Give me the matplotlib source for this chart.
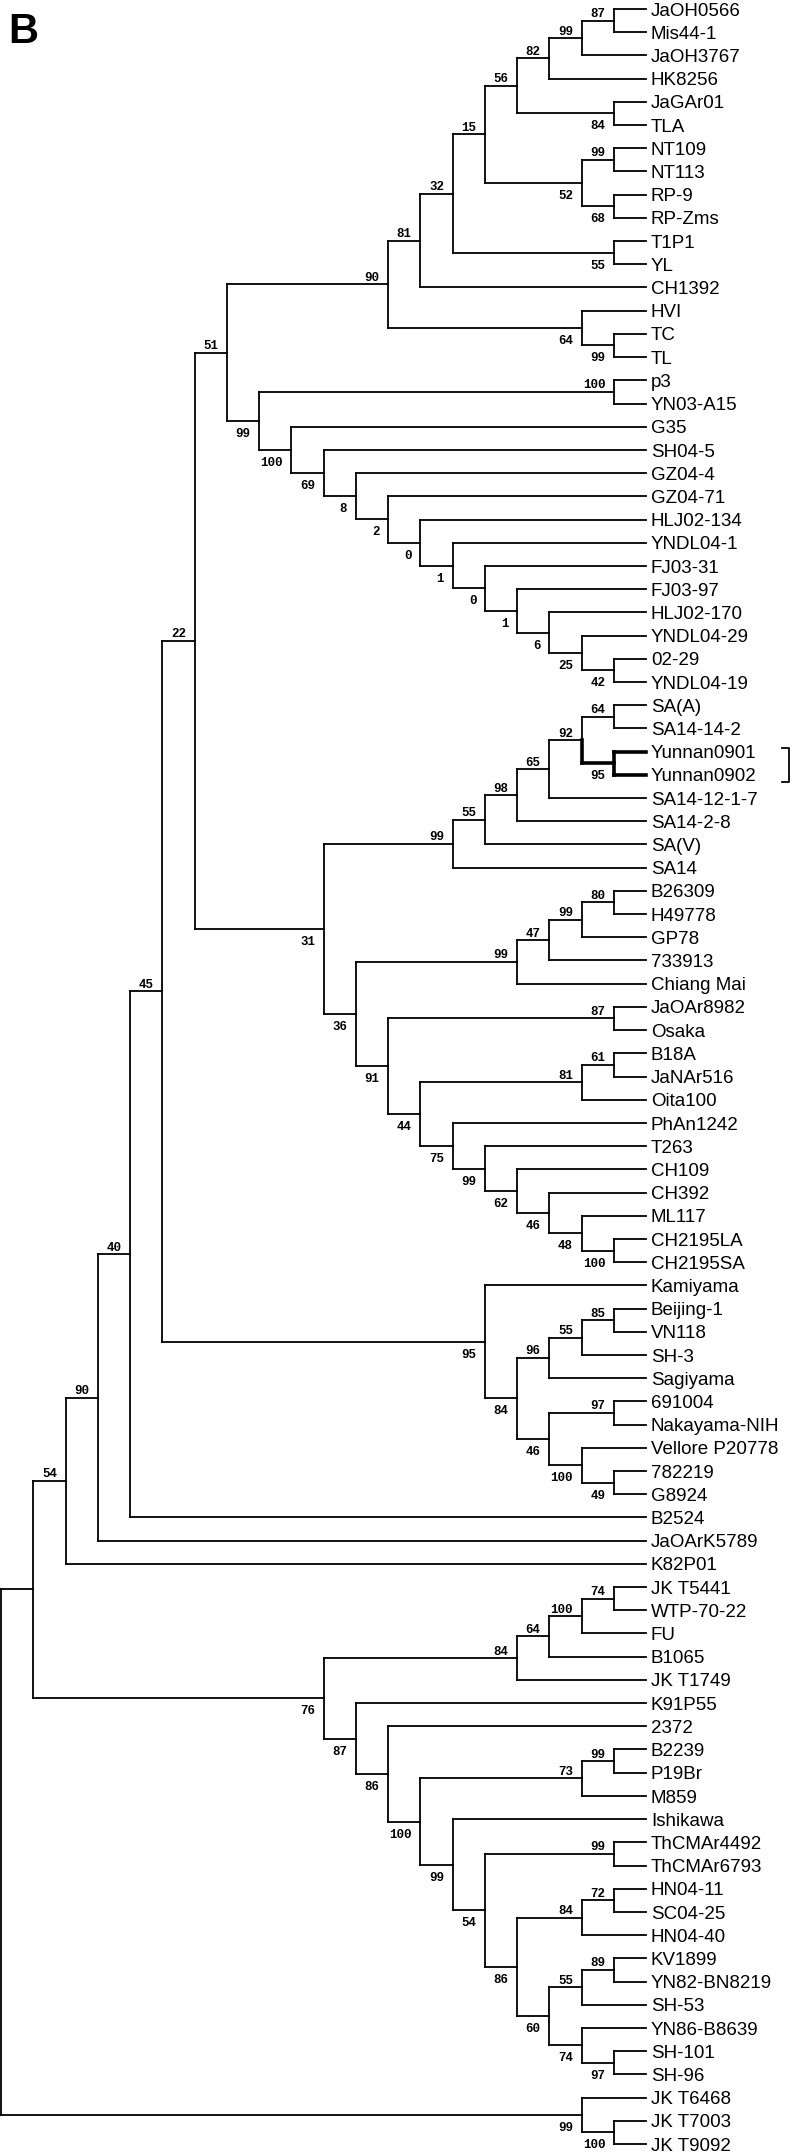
import matplotlib
matplotlib.use('Agg')
import matplotlib.pyplot as plt
from matplotlib.collections import LineCollection

# ---------------- data: tree topology with bootstrap values ----------------
# node = (bootstrap, child1, child2, ...); leaf = str
clade_top = (
    '90',
    ('81',
     ('32',
      ('15',
       ('56',
        ('82', ('99', ('87', 'JaOH0566', 'Mis44-1'), 'JaOH3767'), 'HK8256'),
        ('84', 'JaGAr01', 'TLA')),
       ('52', ('99', 'NT109', 'NT113'), ('68', 'RP-9', 'RP-Zms'))),
      ('55', 'T1P1', 'YL')),
     'CH1392'),
    ('64', 'HVI', ('99', 'TC', 'TL')))

c_42 = ('42', '02-29', 'YNDL04-19')
c_25 = ('25', 'YNDL04-29', c_42)
c_6 = ('6', 'HLJ02-170', c_25)
c_1b = ('1', 'FJ03-97', c_6)
c_0b = ('0', 'FJ03-31', c_1b)
c_1a = ('1', 'YNDL04-1', c_0b)
c_0a = ('0', 'HLJ02-134', c_1a)
c_2 = ('2', 'GZ04-71', c_0a)
c_8 = ('8', 'GZ04-4', c_2)
c_69 = ('69', 'SH04-5', c_8)
clade_geno1 = ('99', ('100', 'p3', 'YN03-A15'), ('100', 'G35', c_69))

c_92 = ('92', ('64', 'SA(A)', 'SA14-14-2'), ('95', 'Yunnan0901', 'Yunnan0902'))
c_65 = ('65', c_92, 'SA14-12-1-7')
c_98 = ('98', c_65, 'SA14-2-8')
c_55s = ('55', c_98, 'SA(V)')
clade_sa14 = ('99', c_55s, 'SA14')

c_48 = ('48', 'ML117', ('100', 'CH2195LA', 'CH2195SA'))
c_46 = ('46', 'CH392', c_48)
c_62 = ('62', 'CH109', c_46)
c_99t = ('99', 'T263', c_62)
c_75 = ('75', 'PhAn1242', c_99t)
c_44 = ('44', ('81', ('61', 'B18A', 'JaNAr516'), 'Oita100'), c_75)
c_91 = ('91', ('87', 'JaOAr8982', 'Osaka'), c_44)
c_99b = ('99', ('47', ('99', ('80', 'B26309', 'H49778'), 'GP78'), '733913'), 'Chiang Mai')
clade_mid = ('36', c_99b, c_91)

c_96 = ('96', ('55', ('85', 'Beijing-1', 'VN118'), 'SH-3'), 'Sagiyama')
c_46k = ('46', ('97', '691004', 'Nakayama-NIH'),
         ('100', 'Vellore P20778', ('49', '782219', 'G8924')))
clade_kamiyama = ('95', 'Kamiyama', ('84', c_96, c_46k))

c_74 = ('74', 'YN86-B8639', ('97', 'SH-101', 'SH-96'))
c_60 = ('60', ('55', ('89', 'KV1899', 'YN82-BN8219'), 'SH-53'), c_74)
c_86b = ('86', ('84', ('72', 'HN04-11', 'SC04-25'), 'HN04-40'), c_60)
c_54 = ('54', ('99', 'ThCMAr4492', 'ThCMAr6793'), c_86b)
c_99i = ('99', 'Ishikawa', c_54)
c_100 = ('100', ('73', ('99', 'B2239', 'P19Br'), 'M859'), c_99i)
c_86a = ('86', '2372', c_100)
c_87 = ('87', 'K91P55', c_86a)
c_84 = ('84', ('64', ('100', ('74', 'JK T5441', 'WTP-70-22'), 'FU'), 'B1065'), 'JK T1749')
clade_low = ('76', c_84, c_87)

clade_jkt = ('99', 'JK T6468', ('100', 'JK T7003', 'JK T9092'))

c_22 = ('22', ('51', clade_top, clade_geno1), ('31', clade_sa14, clade_mid))
c_45 = ('45', c_22, clade_kamiyama)
c_40 = ('40', c_45, 'B2524')
c_90 = ('90', c_40, 'JaOArK5789')
c_54top = ('54', c_90, 'K82P01')
tree = ('', ('', c_54top, clade_low), clade_jkt)

highlight = ['Yunnan0901', 'Yunnan0902']
panel_label = 'B'

# ---------------- layout ----------------
W, H = 792, 2153
fig = plt.figure(figsize=(W / 100, H / 100), dpi=100)
ax = fig.add_axes([0, 0, 1, 1])
ax.set_xlim(0, W)
ax.set_ylim(H, 0)
ax.axis('off')

X_ROOT, X_TIP = 1.0, 646.0
Y_FIRST, Y_LAST = 9.0, 2144.0


def is_leaf(n):
    return isinstance(n, str)


def leaves_of(n):
    if is_leaf(n):
        return [n]
    out = []
    for c in n[1:]:
        out += leaves_of(c)
    return out


def height(n):
    if is_leaf(n):
        return 0
    return 1 + max(height(c) for c in n[1:])


all_leaves = leaves_of(tree)
nleaf = len(all_leaves)
dy = (Y_LAST - Y_FIRST) / (nleaf - 1)
leaf_y = {name: Y_FIRST + i * dy for i, name in enumerate(all_leaves)}
root_h = height(tree)
step = (X_TIP - X_ROOT) / root_h

thin, thick = [], []
labels = []  # (x, y, text, above)


def layout(n):
    if is_leaf(n):
        return X_TIP, leaf_y[n], n in highlight
    x = X_TIP - step * height(n)
    kids = [layout(c) for c in n[1:]]
    ys = [k[1] for k in kids]
    y = (ys[0] + ys[-1]) / 2.0
    hl = all(k[2] for k in kids)
    if hl:
        thick.append([(x, ys[0]), (x, ys[-1])])
    else:
        thin.append([(x, ys[0]), (x, ys[-1])])
        for k in kids:
            if k[2]:
                thick.append([(x, y), (x, k[1])])
    for k in kids:
        (thick if k[2] else thin).append([(x, k[1]), (k[0], k[1])])
    for i, (c, k) in enumerate(zip(n[1:], kids)):
        if not is_leaf(c) and c[0] != '':
            labels.append((k[0], k[1], c[0], i == 0))
    return x, y, hl


layout(tree)

ax.add_collection(LineCollection(thin, colors='black', linewidths=1.3, capstyle='projecting'))
ax.add_collection(LineCollection(thick, colors='black', linewidths=2.6, capstyle='projecting'))

for (x, y, t, above) in labels:
    yy = y - 3.5 if above else y + 16.0
    ax.text(x - 8.5, yy, t, ha='right', va='baseline', fontsize=9,
            family='Liberation Mono', fontweight='bold', color='black')

for name in all_leaves:
    ax.text(X_TIP + 5, leaf_y[name] + 6.6, name, ha='left', va='baseline',
            fontsize=13.5, family='Liberation Sans', color='black')

yb0 = leaf_y[highlight[0]] - 4
yb1 = leaf_y[highlight[-1]] + 7
ax.plot([782, 789, 789, 782], [yb0, yb0, yb1, yb1], color='black', lw=1.3)

ax.text(8, 43, panel_label, fontsize=30, fontweight='bold', family='Liberation Sans',
        ha='left', va='baseline')

fig.savefig('out.png', dpi=100)
